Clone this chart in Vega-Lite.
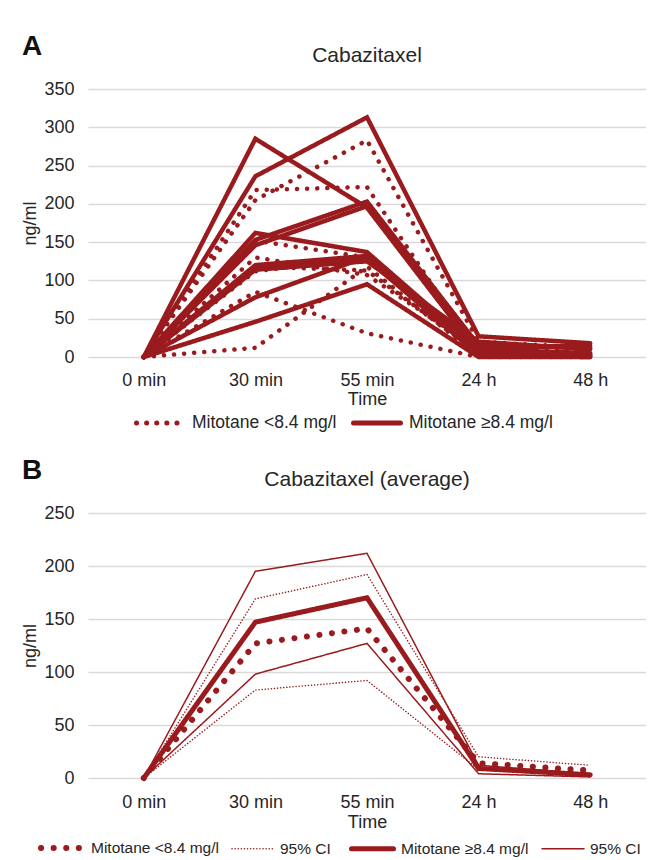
{
  "$schema": "https://vega.github.io/schema/vega-lite/v6.json",
  "background": "white",
  "padding": {"left": 21, "top": 33, "right": 0, "bottom": 0},
  "config": {
    "font": "Liberation Sans",
    "view": {"stroke": null},
    "axis": {
      "labelFont": "Liberation Sans", "labelFontSize": 18, "labelColor": "#262626",
      "titleFont": "Liberation Sans", "titleFontSize": 18, "titleFontWeight": "normal", "titleColor": "#262626",
      "gridColor": "#d9d9d9", "gridWidth": 1.5, "ticks": false, "domain": false
    },
    "legend": {"labelFont": "Liberation Sans", "labelColor": "#262626", "orient": "none", "direction": "horizontal", "title": null},
    "title": {"font": "Liberation Sans", "color": "#262626", "fontWeight": "normal"}
  },
  "resolve": {
    "scale": {"strokeDash": "independent", "strokeWidth": "independent"},
    "legend": {"strokeDash": "independent", "strokeWidth": "independent"}
  },
  "spacing": 24,
  "vconcat": [
    {
      "title": {"text": "A", "anchor": "start", "frame": "bounds", "fontSize": 28, "fontWeight": "bold", "color": "#111111", "dy": 16, "offset": 0},
      "vconcat": [
        {
          "title": {"text": "Cabazitaxel", "fontSize": 21, "offset": 14},
          "width": 558,
          "height": 268,
          "data": {"values": [
            {"id": "D1", "g": "Mitotane <8.4 mg/l", "0 min": 0, "30 min": 205, "55 min": 283, "24 h": 20, "48 h": 12},
            {"id": "D2", "g": "Mitotane <8.4 mg/l", "0 min": 0, "30 min": 218, "55 min": 222, "24 h": 3, "48 h": 2},
            {"id": "D3", "g": "Mitotane <8.4 mg/l", "0 min": 0, "30 min": 152, "55 min": 130, "24 h": 8, "48 h": 5},
            {"id": "D4", "g": "Mitotane <8.4 mg/l", "0 min": 0, "30 min": 118, "55 min": 113, "24 h": 5, "48 h": 3},
            {"id": "D5", "g": "Mitotane <8.4 mg/l", "0 min": 0, "30 min": 112, "55 min": 130, "24 h": 2, "48 h": 1},
            {"id": "D6", "g": "Mitotane <8.4 mg/l", "0 min": 0, "30 min": 85, "55 min": 31, "24 h": 0, "48 h": 0},
            {"id": "D7", "g": "Mitotane <8.4 mg/l", "0 min": 0, "30 min": 12, "55 min": 118, "24 h": 1, "48 h": 0},
            {"id": "D8", "g": "Mitotane <8.4 mg/l", "0 min": 0, "30 min": 130, "55 min": 107, "24 h": 10, "48 h": 8},
            {"id": "S1", "g": "Mitotane ≥8.4 mg/l", "0 min": 0, "30 min": 285, "55 min": 195, "24 h": 5, "48 h": 2},
            {"id": "S2", "g": "Mitotane ≥8.4 mg/l", "0 min": 0, "30 min": 236, "55 min": 313, "24 h": 27, "48 h": 18},
            {"id": "S3", "g": "Mitotane ≥8.4 mg/l", "0 min": 0, "30 min": 162, "55 min": 137, "24 h": 10, "48 h": 5},
            {"id": "S4", "g": "Mitotane ≥8.4 mg/l", "0 min": 0, "30 min": 153, "55 min": 203, "24 h": 15, "48 h": 12},
            {"id": "S5", "g": "Mitotane ≥8.4 mg/l", "0 min": 0, "30 min": 146, "55 min": 197, "24 h": 8, "48 h": 4},
            {"id": "S6", "g": "Mitotane ≥8.4 mg/l", "0 min": 0, "30 min": 120, "55 min": 132, "24 h": 12, "48 h": 15},
            {"id": "S7", "g": "Mitotane ≥8.4 mg/l", "0 min": 0, "30 min": 117, "55 min": 128, "24 h": 3, "48 h": 2},
            {"id": "S8", "g": "Mitotane ≥8.4 mg/l", "0 min": 0, "30 min": 114, "55 min": 125, "24 h": 20, "48 h": 10},
            {"id": "S9", "g": "Mitotane ≥8.4 mg/l", "0 min": 0, "30 min": 78, "55 min": 131, "24 h": 2, "48 h": 0},
            {"id": "S10", "g": "Mitotane ≥8.4 mg/l", "0 min": 0, "30 min": 46, "55 min": 95, "24 h": 0, "48 h": 0}
          ]},
          "transform": [{"fold": ["0 min", "30 min", "55 min", "24 h", "48 h"], "as": ["t", "v"]}],
          "mark": {"type": "line", "strokeWidth": 4.5, "strokeCap": "round", "strokeJoin": "miter", "color": "#9a1b1e"},
          "encoding": {
            "x": {"field": "t", "type": "ordinal", "sort": ["0 min", "30 min", "55 min", "24 h", "48 h"],
                  "scale": {"type": "point", "padding": 0.5},
                  "axis": {"labelAngle": 0, "title": "Time", "labelPadding": 14, "titlePadding": 1}},
            "y": {"field": "v", "type": "quantitative", "scale": {"domain": [0, 350]},
                  "axis": {"values": [0, 50, 100, 150, 200, 250, 300, 350], "title": "ng/ml", "labelPadding": 14, "titlePadding": 4}},
            "detail": {"field": "id"},
            "strokeDash": {"field": "g", "type": "nominal",
              "scale": {"domain": ["Mitotane <8.4 mg/l", "Mitotane ≥8.4 mg/l"], "range": [[0.1, 10], [1, 0]]},
              "legend": {"labelFontSize": 17.5, "symbolSize": 2209, "symbolStrokeWidth": 5, "symbolStrokeColor": "#9a1b1e", "columnPadding": 6, "labelOffset": 6,
                         "legendX": 46, "legendY": 308,
                         "encode": {"symbols": {"update": {"strokeCap": {"value": "round"}}}}}}
          }
        }
      ]
    },
    {
      "title": {"text": "B", "anchor": "start", "frame": "bounds", "fontSize": 28, "fontWeight": "bold", "color": "#111111", "dy": 16, "offset": 0},
      "vconcat": [
        {
          "title": {"text": "Cabazitaxel (average)", "fontSize": 21, "offset": 14},
          "width": 558,
          "height": 265,
          "data": {"values": [
            {"line": "lo_mean", "s": "Mitotane <8.4 mg/l", "0 min": 0, "30 min": 127, "55 min": 141, "24 h": 14, "48 h": 7},
            {"line": "lo_up", "s": "95% CI", "0 min": 0, "30 min": 169, "55 min": 192, "24 h": 20, "48 h": 12},
            {"line": "lo_low", "s": "95% CI", "0 min": 0, "30 min": 83, "55 min": 92, "24 h": 8, "48 h": 2},
            {"line": "hi_mean", "s": "Mitotane ≥8.4 mg/l", "0 min": 0, "30 min": 147, "55 min": 170, "24 h": 9, "48 h": 3},
            {"line": "hi_up", "s": "95% CI ", "0 min": 0, "30 min": 195, "55 min": 212, "24 h": 12, "48 h": 4},
            {"line": "hi_low", "s": "95% CI ", "0 min": 0, "30 min": 98, "55 min": 127, "24 h": 4, "48 h": 1}
          ]},
          "transform": [{"fold": ["0 min", "30 min", "55 min", "24 h", "48 h"], "as": ["t", "v"]}],
          "mark": {"type": "line", "strokeCap": "round", "strokeJoin": "miter", "color": "#9a1b1e"},
          "encoding": {
            "x": {"field": "t", "type": "ordinal", "sort": ["0 min", "30 min", "55 min", "24 h", "48 h"],
                  "scale": {"type": "point", "padding": 0.5},
                  "axis": {"labelAngle": 0, "title": "Time", "labelPadding": 15, "titlePadding": 2}},
            "y": {"field": "v", "type": "quantitative", "scale": {"domain": [0, 250]},
                  "axis": {"values": [0, 50, 100, 150, 200, 250], "title": "ng/ml", "labelPadding": 14, "titlePadding": 4}},
            "detail": {"field": "line"},
            "strokeDash": {"field": "s", "type": "nominal",
              "scale": {"type": "ordinal", "domain": ["Mitotane <8.4 mg/l", "95% CI", "Mitotane ≥8.4 mg/l", "95% CI "], "range": [[0.1, 12.5], [0.1, 3], [1, 0], [1, 0]]},
              "legend": {"labelFontSize": 15.5, "symbolSize": 1764, "symbolStrokeColor": "#9a1b1e", "columnPadding": 10, "labelOffset": 5,
                         "legendX": -50, "legendY": 311,
                         "encode": {"symbols": {"update": {"strokeCap": {"value": "round"}}}}}},
            "strokeWidth": {"field": "s", "type": "nominal",
              "scale": {"type": "ordinal", "domain": ["Mitotane <8.4 mg/l", "95% CI", "Mitotane ≥8.4 mg/l", "95% CI "], "range": [6, 1.5, 5, 1.5]},
              "legend": {"labelFontSize": 15.5, "symbolSize": 1764, "symbolStrokeColor": "#9a1b1e", "columnPadding": 10, "labelOffset": 5,
                         "legendX": -50, "legendY": 311,
                         "encode": {"symbols": {"update": {"strokeCap": {"value": "round"}}}}}}
          }
        }
      ]
    }
  ]
}
